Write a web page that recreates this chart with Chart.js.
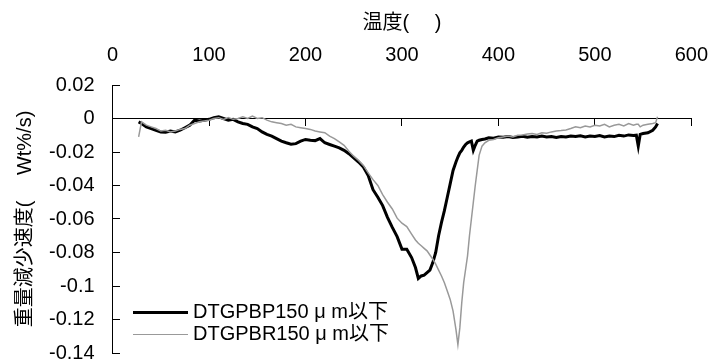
<!DOCTYPE html>
<html>
<head>
<meta charset="utf-8">
<script src="https://cdn.jsdelivr.net/npm/chart.js@4.4.1/dist/chart.umd.min.js"></script>
<style>
  html, body { margin: 0; padding: 0; background: #fff; }
  #wrap { position: relative; width: 723px; height: 362px; overflow: hidden; }
  #legend {
    position: absolute; left: 133px; top: 300px;
    font: 20px 'Liberation Sans', Arial, 'Noto Sans CJK JP', sans-serif;
    line-height: 22px; color: #000; white-space: nowrap;
  }
  #legend .sw { display: inline-block; width: 55px; vertical-align: middle; margin-right: 5px; }
</style>
</head>
<body>
<div id="wrap">
  <canvas id="c" width="723" height="362"></canvas>
  <div id="legend"></div>
</div>
<script>
// 温度 (℃) — shared sample points for both curves
const temps = [
  27, 30, 35, 40, 45, 50, 55, 60, 65, 70,
  75, 80, 85, 90, 95, 100, 105, 110, 115, 120,
  125, 130, 135, 140, 145, 150, 155, 160, 165, 170,
  175, 180, 185, 190, 195, 200, 205, 210, 215, 220,
  225, 230, 235, 240, 245, 250, 255, 260, 265, 270,
  275, 280, 285, 290, 295, 300, 305, 310, 314, 317,
  320, 323, 326, 329, 332, 335, 338, 341, 344, 347,
  350, 353, 356, 358, 360, 362, 364, 366, 368, 370,
  372, 374, 376, 378, 380, 383, 386, 390, 395, 400,
  405, 410, 415, 420, 425, 430, 435, 440, 445, 450,
  455, 460, 465, 470, 475, 480, 485, 490, 495, 500,
  505, 510, 515, 520, 525, 530, 535, 540, 543, 545,
  547, 550, 555, 560, 563, 565
];

// DTGPBP150μm以下 (black)
const bpRate = [
  -0.002, -0.003, -0.005, -0.006, -0.007, -0.008, -0.0082, -0.0075, -0.008, -0.007,
  -0.0055, -0.004, -0.001, -0.0015, -0.001, -0.0005, 0.0005, 0.001, 0, -0.001,
  -0.0005, -0.002, -0.003, -0.0035, -0.005, -0.006, -0.008, -0.0095, -0.0105, -0.012,
  -0.0135, -0.0145, -0.0153, -0.015, -0.0135, -0.0125, -0.013, -0.0132, -0.012, -0.0145,
  -0.0155, -0.0165, -0.0175, -0.019, -0.021, -0.0235, -0.026, -0.029, -0.034, -0.0425,
  -0.047, -0.052, -0.059, -0.065, -0.0705, -0.078, -0.078, -0.083, -0.089, -0.0955,
  -0.094, -0.0935, -0.092, -0.0905, -0.086, -0.08, -0.07, -0.062, -0.055, -0.047,
  -0.039, -0.031, -0.026, -0.023, -0.0205, -0.019, -0.017, -0.0155, -0.0145, -0.014,
  -0.0135, -0.019, -0.016, -0.0135, -0.013, -0.0125, -0.0122, -0.0115, -0.0118, -0.011,
  -0.0112, -0.0108, -0.0113, -0.011, -0.0106, -0.0112, -0.0108, -0.011, -0.0105, -0.011,
  -0.0108, -0.0113, -0.0108, -0.011, -0.0105, -0.0108, -0.0103, -0.011, -0.0105, -0.0108,
  -0.0102, -0.011, -0.0105, -0.0108, -0.01, -0.0105, -0.0098, -0.0102, -0.01, -0.0165,
  -0.0095, -0.009, -0.0085, -0.007, -0.005, -0.003
];

// DTGPBR150μm以下 (grey)
const brRate = [
  -0.011, -0.002, -0.004, -0.005, -0.006, -0.0075, -0.007, -0.008, -0.0075, -0.0065,
  -0.006, -0.004, -0.003, -0.002, -0.0015, -0.001, 0, 0.0005, -0.0005, 0.0005,
  -0.0005, 0, 0.001, 0, 0.0015, 0, 0.0005, -0.001, -0.002, -0.0025,
  -0.003, -0.004, -0.0035, -0.005, -0.0055, -0.006, -0.0065, -0.0075, -0.008, -0.0085,
  -0.0105, -0.012, -0.014, -0.016, -0.0195, -0.0225, -0.025, -0.028, -0.0325, -0.0365,
  -0.04, -0.0455, -0.05, -0.054, -0.0595, -0.0625, -0.0645, -0.069, -0.0725, -0.0745,
  -0.076, -0.0775, -0.079, -0.0815, -0.084, -0.087, -0.0905, -0.094, -0.098, -0.103,
  -0.108, -0.115, -0.126, -0.135, -0.125, -0.11, -0.098, -0.09, -0.082, -0.07,
  -0.06, -0.05, -0.04, -0.031, -0.022, -0.0165, -0.0145, -0.013, -0.0125, -0.0115,
  -0.011, -0.0105, -0.011, -0.01, -0.0098, -0.0093, -0.009, -0.0095, -0.0085, -0.0088,
  -0.008, -0.0075, -0.0072, -0.0068, -0.006, -0.005, -0.0055, -0.0045, -0.005, -0.004,
  -0.0045, -0.0035, -0.005, -0.004, -0.0035, -0.0045, -0.003, -0.004, -0.0035, -0.0035,
  -0.005, -0.004, -0.0035, -0.003, -0.0025, 0.001
];

const seriesNames = ['DTGPBP150 μ m以下', 'DTGPBR150 μ m以下'];
const seriesColors = ['#000000', '#999999'];
const seriesWidths = [3, 1.5];

const xTitle = '温度(\u3000 )';
const yTitle = '重量減少速度(\u3000 Wt%/s)';

function pts(vals) {
  return temps.map(function (t, i) {
    return { x: t, y: vals[i] };
  });
}

Chart.defaults.font.family = "'Liberation Sans', Arial, 'Noto Sans CJK JP', sans-serif";
Chart.defaults.font.size = 20;
Chart.defaults.color = '#000';

new Chart(document.getElementById('c'), {
  type: 'line',
  data: {
    datasets: [
      {
        label: seriesNames[0], data: pts(bpRate),
        borderColor: seriesColors[0], borderWidth: seriesWidths[0],
        pointRadius: 0, tension: 0, order: 2
      },
      {
        label: seriesNames[1], data: pts(brRate),
        borderColor: seriesColors[1], borderWidth: seriesWidths[1],
        pointRadius: 0, tension: 0, order: 1
      }
    ]
  },
  options: {
    responsive: false,
    animation: false,
    devicePixelRatio: 1,
    layout: { padding: { top: 11.5, left: 13, right: 0, bottom: 9 } },
    plugins: { legend: { display: false }, tooltip: { enabled: false } },
    scales: {
      // labels + title along the top
      x: {
        type: 'linear', position: 'top', min: 0, max: 600,
        ticks: { stepSize: 100, padding: 15, color: '#000', font: { lineHeight: 1.5 } },
        grid: { display: false, drawTicks: false },
        border: { display: false },
        title: { display: true, text: xTitle, color: '#000', padding: { top: 0, bottom: -10.5 } }
      },
      // axis line through y = 0 with downward tick marks
      x2: {
        type: 'linear', axis: 'x', position: { y: 0 }, min: 0, max: 600,
        ticks: { display: false, stepSize: 100 },
        grid: { drawOnChartArea: false, drawTicks: true, tickLength: 7, color: '#000' },
        border: { display: true, color: '#000', width: 1 }
      },
      y: {
        position: 'left', min: -0.14, max: 0.02,
        ticks: {
          stepSize: 0.02, padding: 0, color: '#000', autoSkip: false,
          font: { lineHeight: 0.9 },
          callback: function (v) { return String(Number(v.toFixed(2))); }
        },
        grid: { drawOnChartArea: false, tickLength: 18, tickColor: 'rgba(0,0,0,0)' },
        border: { color: '#000', width: 1 },
        title: { display: true, text: yTitle, color: '#000', padding: { top: 0, bottom: 12 } }
      },
      // inward tick marks on the value axis
      y2: {
        axis: 'y', position: { x: 0 }, min: -0.14, max: 0.02,
        ticks: { display: false, stepSize: 0.02 },
        grid: { drawOnChartArea: false, drawTicks: true, tickLength: -7, color: '#000' },
        border: { display: false }
      }
    }
  }
});

// legend drawn inside the plot, lower left
const legendEl = document.getElementById('legend');
seriesNames.forEach(function (name, i) {
  const row = document.createElement('div');
  const sw = document.createElement('span');
  sw.className = 'sw';
  sw.style.borderTop = seriesWidths[i] + 'px solid ' + seriesColors[i];
  row.appendChild(sw);
  row.appendChild(document.createTextNode(name));
  legendEl.appendChild(row);
});
</script>
</body>
</html>
